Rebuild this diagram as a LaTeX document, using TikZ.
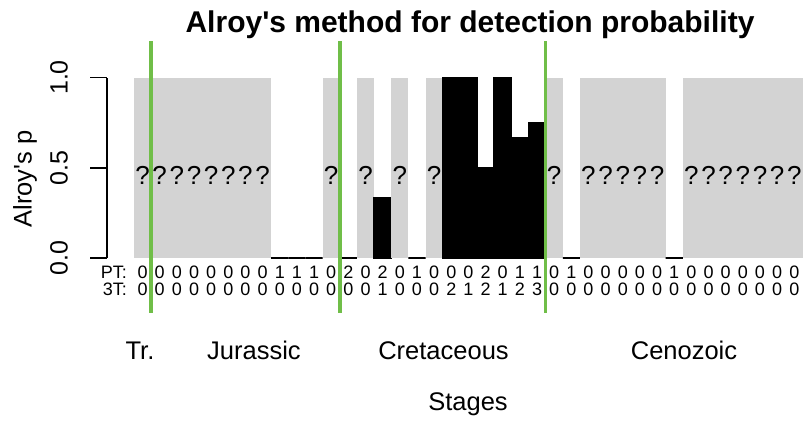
\documentclass[tikz,border=0pt]{standalone}
\usepackage{fontspec}
\setmainfont{Liberation Sans}
\usetikzlibrary{positioning}

\definecolor{nagray}{RGB}{211,211,211}
\definecolor{cutgreen}{RGB}{112,190,72}

% bar geometry (px)
\newcommand{\barleft}{134}
\newcommand{\barw}{17.15}
\newcommand{\ybase}{258}
\newcommand{\yunit}{180.5}

\tikzset{
  axislab/.style={inner sep=0pt, font=\fontsize{25.5}{30}\selectfont},
  ticklab/.style={inner sep=0pt, font=\fontsize{25}{30}\selectfont, rotate=90},
  qmark/.style={inner sep=0pt, anchor=base, font=\fontsize{26}{30}\selectfont},
  countlab/.style={inner sep=0pt, anchor=base, font=\fontsize{18}{19}\selectfont},
  cutline/.style={cutgreen, line width=3.5pt},
  axisline/.style={black, line width=1.6pt}
}

\begin{document}
\begin{tikzpicture}[x=1pt, y=-1pt]
    \useasboundingbox (0,0) rectangle (804,421);
    \clip (0,0) rectangle (804,421);

    % Title
    \node[inner sep=0pt, anchor=base, font=\fontsize{30}{34}\selectfont\bfseries] (title) at (470,32) {Alroy\textquotesingle s method for detection probability};

    % Bars (PT/3T per stage)
    \foreach \npt/\nth [count=\i] in {0/0,0/0,0/0,0/0,0/0,0/0,0/0,0/0,1/0,1/0,1/0,0/0,2/0,0/0,2/1,0/0,1/0,0/0,0/2,0/1,2/2,0/1,1/2,1/3,0/0,1/0,0/0,0/0,0/0,0/0,0/0,1/0,0/0,0/0,0/0,0/0,0/0,0/0,0/0} {
        \pgfmathsetmacro{\xa}{\barleft+(\i-1)*\barw}
        \pgfmathsetmacro{\xb}{\xa+\barw}
        \pgfmathsetmacro{\xm}{\xa+\barw/2}
        \ifnum\numexpr\npt+\nth\relax=0
            \fill[nagray] (\xa,\ybase) rectangle (\xb,\ybase-\yunit);
            \node[qmark] (q\i) at (\xm,184) {?};
        \else
            \pgfmathsetmacro{\yp}{\ybase-\yunit*\nth/(\npt+\nth)}
            \filldraw[black, line width=1.6pt] (\xa,\ybase) rectangle (\xb,\yp);
        \fi
        \node[countlab] (pt\i) at (\xm,278) {\npt};
        \node[countlab] (th\i) at (\xm,295) {\nth};
    }
    \node[countlab, anchor=base east] (ptlab) at (127,278) {PT:};
    \node[countlab, anchor=base east] (thlab) at (127,295) {3T:};

    % Axis
    \draw[axisline] (107,\ybase) -- (107,\ybase-\yunit);
    \foreach \v/\lab in {0/0.0, 0.5/0.5, 1/1.0} {
        \draw[axisline] (90,\ybase-\yunit*\v) -- (107,\ybase-\yunit*\v);
        \node[ticklab] (tick\lab) at (59,\ybase-\yunit*\v) {\lab};
    }
    \node[axislab, rotate=90] (ylab) at (25,179) {Alroy\textquotesingle s p};

    % Period boundaries
    \foreach \k in {1,12,24}
        \draw[cutline] (\barleft+\k*\barw,41) -- (\barleft+\k*\barw,313);

    % Periods
    \node[axislab, anchor=base] (tr) at (140,359) {Tr.};
    \node[axislab, anchor=base] (jur) at (254,359) {Jurassic};
    \node[axislab, anchor=base] (cret) at (443.5,359) {Cretaceous};
    \node[axislab, anchor=base] (ceno) at (684,359) {Cenozoic};
    \node[axislab, anchor=base] (xlab) at (468,410) {Stages};
\end{tikzpicture}
\end{document}
